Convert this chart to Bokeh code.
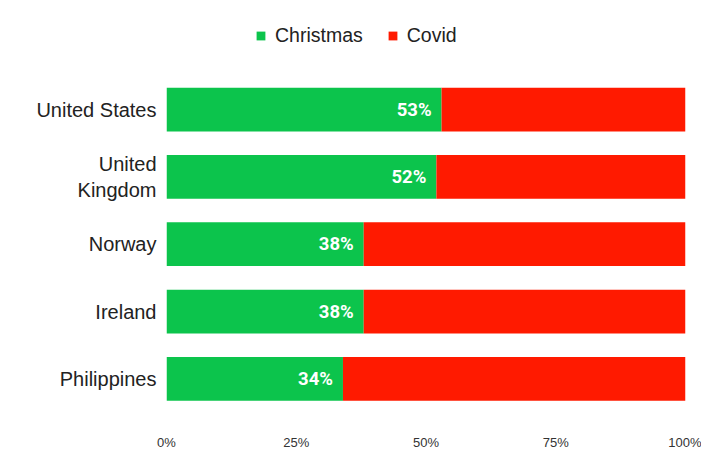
from bokeh.plotting import figure
from bokeh.models import ColumnDataSource, Range1d, FixedTicker, NumeralTickFormatter, Legend, LegendItem, LabelSet
from bokeh.core.properties import value
from bokeh.embed import file_html
from bokeh.resources import INLINE

countries = ["United States", "United\nKingdom", "Norway", "Ireland", "Philippines"]
christmas = [0.53, 0.52, 0.38, 0.38, 0.34]
covid = [1 - c for c in christmas]
christmas_labels = ["53%", "52%", "38%", "38%", "34%"]
series = ["Christmas", "Covid"]
colors = ["#0cc44c", "#ff1a00"]
x_ticks = [0, 0.25, 0.5, 0.75, 1.0]

n = len(countries)
pos = list(range(n, 0, -1))  # top row first
src = ColumnDataSource(dict(pos=pos, Christmas=christmas, Covid=covid, clab=christmas_labels))

p = figure(width=701, height=454, y_range=Range1d(0.5, 6.62),
           x_range=Range1d(0, 1), output_backend="svg", toolbar_location=None,
           min_border_left=166, min_border_right=16, min_border_bottom=42, min_border_top=0)
p.outline_line_color = None
p.grid.visible = False

rs = p.hbar_stack(series, y="pos", height=0.65, color=colors, line_color=None, source=src)

labels = LabelSet(x="Christmas", y="pos", text="clab", source=src, x_offset=-10,
                  text_align="right", text_baseline="middle", text_color="white",
                  text_font=value("Roboto"), text_font_style="bold", text_font_size="18.5px")
p.add_layout(labels)

ya = p.yaxis[0]
ya.ticker = FixedTicker(ticks=pos)
ya.major_label_overrides = {pp: c for pp, c in zip(pos, countries)}
ya.axis_line_color = None
ya.major_tick_line_color = None
ya.minor_tick_line_color = None
ya.major_tick_out = 0
ya.major_label_standoff = 10
ya.major_label_text_font = "Liberation Sans"
ya.major_label_text_font_size = "20px"
ya.major_label_text_color = "#222222"

xa = p.xaxis[0]
xa.ticker = FixedTicker(ticks=x_ticks)
xa.formatter = NumeralTickFormatter(format="0%")
xa.axis_line_color = None
xa.major_tick_line_color = None
xa.minor_tick_line_color = None
xa.major_tick_out = 0
xa.major_label_standoff = 22
xa.major_label_text_font = "Liberation Sans"
xa.major_label_text_font_size = "13px"
xa.major_label_text_color = "#333333"

legend = Legend(items=[LegendItem(label=s, renderers=[r]) for s, r in zip(series, rs)],
                orientation="horizontal", location=(89, 365), border_line_color=None,
                background_fill_alpha=0,
                label_text_font="Liberation Sans", label_text_font_size="19.5px",
                label_text_color="#222222", glyph_width=11, glyph_height=11,
                label_standoff=9, spacing=24, padding=0, margin=0)
p.add_layout(legend, "center")

open("out.html", "w").write(file_html(p, INLINE))
